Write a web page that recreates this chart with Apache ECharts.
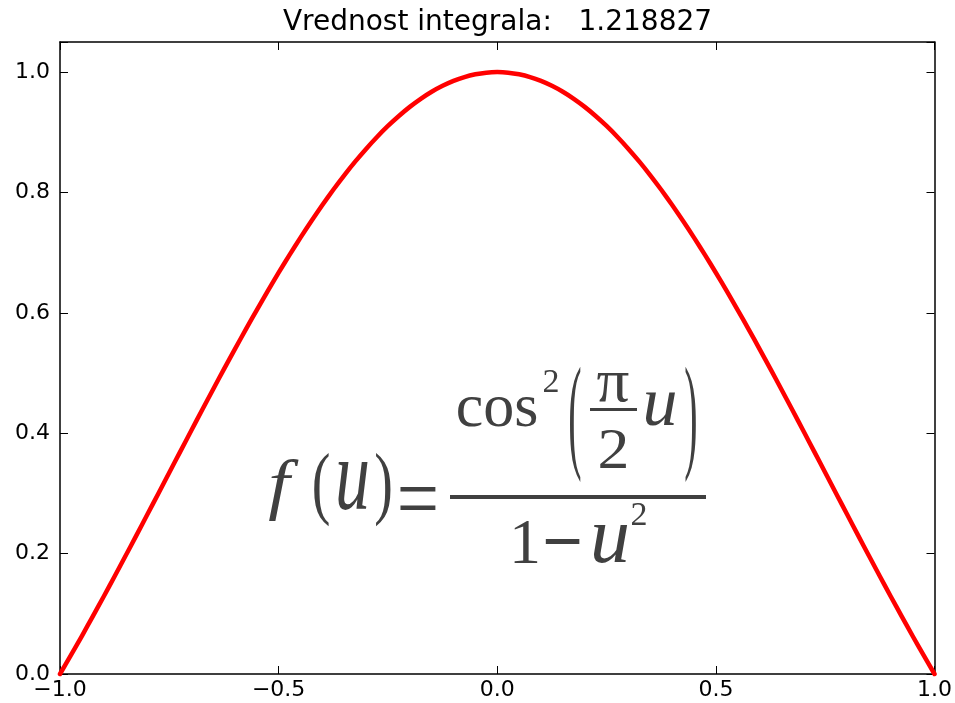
<!DOCTYPE html>
<html>
<head>
<meta charset="utf-8">
<script src="https://cdn.jsdelivr.net/npm/echarts@6/dist/echarts.min.js"></script>
<style>
  html, body { margin: 0; padding: 0; background: #ffffff; }
  #chart { width: 955px; height: 703px; }
</style>
</head>
<body>
<div id="chart"></div>
<script>
// Sample points of f(u) on [-1, 1], step 0.025
const U = [-1.000, -0.975, -0.950, -0.925, -0.900, -0.875, -0.850, -0.825, -0.800, -0.775,
           -0.750, -0.725, -0.700, -0.675, -0.650, -0.625, -0.600, -0.575, -0.550, -0.525,
           -0.500, -0.475, -0.450, -0.425, -0.400, -0.375, -0.350, -0.325, -0.300, -0.275,
           -0.250, -0.225, -0.200, -0.175, -0.150, -0.125, -0.100, -0.075, -0.050, -0.025,
            0.000,
            0.025,  0.050,  0.075,  0.100,  0.125,  0.150,  0.175,  0.200,  0.225,  0.250,
            0.275,  0.300,  0.325,  0.350,  0.375,  0.400,  0.425,  0.450,  0.475,  0.500,
            0.525,  0.550,  0.575,  0.600,  0.625,  0.650,  0.675,  0.700,  0.725,  0.750,
            0.775,  0.800,  0.825,  0.850,  0.875,  0.900,  0.925,  0.950,  0.975,  1.000];
const F = [0.0000, 0.0312, 0.0631, 0.0957, 0.1288, 0.1624, 0.1964, 0.2307, 0.2653, 0.3000,
           0.3347, 0.3695, 0.4041, 0.4386, 0.4727, 0.5065, 0.5398, 0.5726, 0.6047, 0.6361,
           0.6667, 0.6963, 0.7250, 0.7527, 0.7792, 0.8045, 0.8285, 0.8512, 0.8724, 0.8922,
           0.9105, 0.9271, 0.9422, 0.9556, 0.9673, 0.9772, 0.9854, 0.9918, 0.9963, 0.9991,
           1.0000,
           0.9991, 0.9963, 0.9918, 0.9854, 0.9772, 0.9673, 0.9556, 0.9422, 0.9271, 0.9105,
           0.8922, 0.8724, 0.8512, 0.8285, 0.8045, 0.7792, 0.7527, 0.7250, 0.6963, 0.6667,
           0.6361, 0.6047, 0.5726, 0.5398, 0.5065, 0.4727, 0.4386, 0.4041, 0.3695, 0.3347,
           0.3000, 0.2653, 0.2307, 0.1964, 0.1624, 0.1288, 0.0957, 0.0631, 0.0312, 0.0000];

const xTickValues = [-1, -0.5, 0, 0.5, 1];
const xTickLabels = ['\u22121.0', '\u22120.5', '0.0', '0.5', '1.0'];
const yTickValues = [0, 0.2, 0.4, 0.6, 0.8, 1.0];
const yTickLabels = ['0.0', '0.2', '0.4', '0.6', '0.8', '1.0'];
const titleText = 'Vrednost integrala:   1.218827';

const SANS = '"DejaVu Sans", sans-serif';
const SERIF = '"Liberation Serif", "Times New Roman", serif';
const INK = '#404040';

function lookup(values, labels, v) {
  const i = values.findIndex(t => Math.abs(t - v) < 1e-9);
  return i < 0 ? '' : labels[i];
}

// One glyph of the formula, placed by the centre of its ink box.
// c = height of the ink centre above the baseline, in em.
function glyph(text, cx, cy, fs, o) {
  o = o || {};
  const sx = o.sx || 1, sy = o.sy || 1, c = (o.c == null ? 0.23 : o.c);
  const y = cy - (0.3375 - c) * fs * sy;
  return {
    type: 'text', x: cx, y: y, scaleX: sx, scaleY: sy, z: 100, silent: true,
    style: {
      text: text, x: 0, y: 0, fill: INK,
      fontSize: fs, fontFamily: SERIF, fontStyle: o.italic ? 'italic' : 'normal',
      align: 'center', verticalAlign: 'middle',
      textAlign: 'center', textVerticalAlign: 'middle'
    }
  };
}
function bar(x1, x2, yc, h) {
  return { type: 'rect', z: 100, silent: true,
    shape: { x: x1, y: yc - h / 2, width: x2 - x1, height: h },
    style: { fill: INK } };
}

const formula = [
  glyph('f', 279, 497, 67, { italic: true, sx: 1.15 }),
  glyph('(', 321, 495, 80, { c: 0.255, sx: 0.7 }),
  glyph('u', 352.5, 493.5, 70, { italic: true, sy: 1.45 }),
  glyph(')', 383.5, 495, 80, { c: 0.255, sx: 0.7 }),
  glyph('=', 418, 512, 75, { c: 0.26, sy: 1.2 }),
  bar(450, 706, 497, 4),
  glyph('cos', 497, 416, 62),
  glyph('2', 551, 383.5, 34, { c: 0.338 }),
  glyph('(', 575, 432, 80, { c: 0.255, sx: 0.5, sy: 1.6 }),
  glyph('\u03C0', 613, 391, 62, { sx: 1.05 }),
  bar(590, 637, 409.5, 3),
  glyph('2', 613.5, 452.5, 58, { c: 0.338, sx: 1.1 }),
  glyph('u', 660, 414, 70, { italic: true }),
  glyph(')', 691, 432, 80, { c: 0.255, sx: 0.5, sy: 1.6 }),
  glyph('1', 525, 546.5, 64, { c: 0.338 }),
  glyph('\u2212', 562.5, 557, 72, { c: 0.25, sy: 1.4 }),
  glyph('u', 610, 550, 80, { italic: true }),
  glyph('2', 639, 516, 34, { c: 0.338 })
];

const axisLine = { show: true, onZero: false, lineStyle: { color: '#000', width: 1.5 } };
const axisTick = { show: true, inside: true, length: 8, lineStyle: { color: '#000', width: 1 } };
const labelStyle = { color: '#000', fontSize: 22, fontFamily: SANS };

const chart = echarts.init(document.getElementById('chart'), null, { renderer: 'canvas' });
chart.setOption({
  animation: false,
  backgroundColor: '#ffffff',
  grid: { left: 60, right: 18, top: 42, bottom: 29, containLabel: false },
  xAxis: [
    { type: 'value', position: 'bottom', min: -1, max: 1, interval: 0.5,
      axisLine: axisLine, axisTick: axisTick, splitLine: { show: false },
      axisLabel: Object.assign({ margin: 5, formatter: v => lookup(xTickValues, xTickLabels, v) }, labelStyle) },
    { type: 'value', position: 'top', min: -1, max: 1, interval: 0.5,
      axisLine: axisLine, axisTick: axisTick, splitLine: { show: false },
      axisLabel: { show: false } }
  ],
  yAxis: [
    { type: 'value', position: 'left', min: 0, max: 1.05, interval: 0.2,
      axisLine: axisLine, axisTick: axisTick, splitLine: { show: false },
      axisLabel: Object.assign({ margin: 10, formatter: v => lookup(yTickValues, yTickLabels, v) }, labelStyle) },
    { type: 'value', position: 'right', min: 0, max: 1.05, interval: 0.2,
      axisLine: axisLine, axisTick: axisTick, splitLine: { show: false },
      axisLabel: { show: false } }
  ],
  series: [{
    type: 'line',
    xAxisIndex: 0, yAxisIndex: 0,
    data: U.map((u, i) => [u, F[i]]),
    symbol: 'none',
    smooth: 0.2,
    clip: false,
    lineStyle: { color: '#ff0000', width: 4.5, join: 'round', cap: 'round' },
    z: 5
  }],
  graphic: [
    { type: 'text', x: 497.5, y: 22.5, z: 100, silent: true,
      style: { text: titleText, x: 0, y: 0, fill: '#000', fontSize: 28, fontFamily: SANS,
               align: 'center', verticalAlign: 'middle', textAlign: 'center', textVerticalAlign: 'middle' } }
  ].concat(formula)
});
</script>
</body>
</html>
